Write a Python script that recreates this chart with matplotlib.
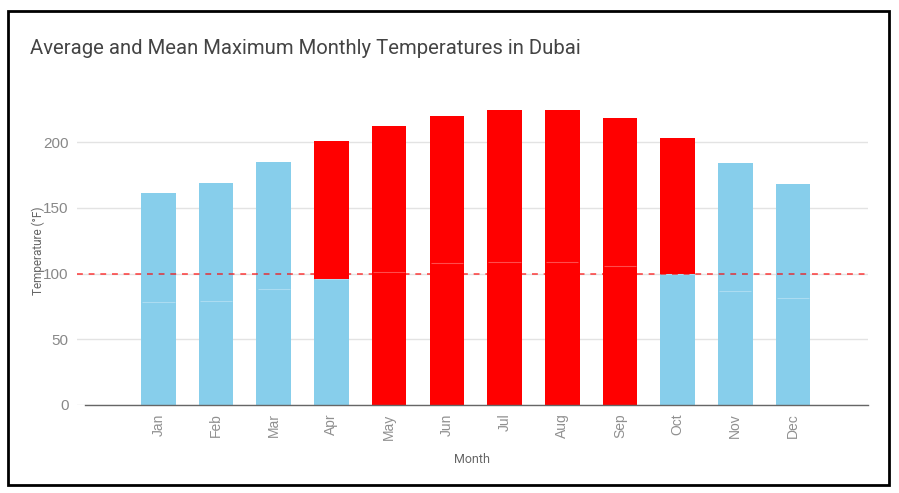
import numpy as np
import matplotlib.pyplot as plt
from matplotlib.patches import Rectangle

# monthly values (deg F)
months = ['Jan', 'Feb', 'Mar', 'Apr', 'May', 'Jun', 'Jul', 'Aug', 'Sep', 'Oct', 'Nov', 'Dec']
avg_temp = [78, 79, 88, 96, 101, 108, 109, 109, 106, 99.5, 87, 81]
max_temp = [83, 90, 97, 105, 111, 112, 115, 115, 112, 103.5, 97, 87]
threshold = 100

blue = '#87CEEB'
red = '#FF0000'

fig = plt.figure(figsize=(8.99, 4.93), dpi=100)
ax = fig.add_axes([77 / 899, 1 - 405 / 493, (868 - 77) / 899, (405 - 96) / 493])

x = np.arange(len(months))
avg_colors = [red if v > threshold else blue for v in avg_temp]
max_colors = [red if v > threshold else blue for v in max_temp]
ax.bar(x, avg_temp, width=0.6, color=avg_colors, zorder=2)
ax.bar(x, max_temp, width=0.6, bottom=avg_temp, color=max_colors, zorder=2)
# faint seam where the two stacked segments meet
ax.hlines(avg_temp, x - 0.28, x + 0.28, color='white', alpha=0.3, linewidth=0.8, zorder=2.5)

# 100 F reference line
ax.axhline(threshold, color=red, linestyle=(0, (3, 3)), linewidth=1.4, alpha=0.6, zorder=3)

ax.set_xlim(-1.41, 12.3)
ax.set_ylim(0, 235)
ax.set_yticks([0, 50, 100, 150, 200])
ax.set_xticks(x)
ax.set_xticklabels(months, rotation=90, fontsize=10, color='#909090', family='Liberation Sans')
for lbl in ax.get_yticklabels():
    lbl.set_fontsize(11)
    lbl.set_color('#888888')
    lbl.set_family('Liberation Sans')
ax.tick_params(axis='both', length=0, pad=6)
ax.grid(axis='y', color='#e3e3e3', linewidth=1, zorder=0)
for s in ax.spines.values():
    s.set_visible(False)
ax.plot([0.0101, 1], [0, 0], transform=ax.transAxes, color='#666666',
        linewidth=1, clip_on=False, zorder=4)

ax.set_ylabel('Temperature (°F)', fontsize=8.5, color='#666666', family='Roboto', labelpad=-1)
ax.set_xlabel('Month', fontsize=9, color='#666666', family='Roboto', labelpad=10)

fig.text(30 / 899, 1 - 49 / 493, 'Average and Mean Maximum Monthly Temperatures in Dubai',
         fontsize=14.6, color='#444444', family='Roboto', va='center', ha='left')

# black frame around the chart
fig.patches.append(Rectangle((8 / 899, 1 - 485 / 493), 881 / 899, 474 / 493,
                             transform=fig.transFigure, fill=False,
                             edgecolor='black', linewidth=2))

fig.savefig('out.png', dpi=100)
